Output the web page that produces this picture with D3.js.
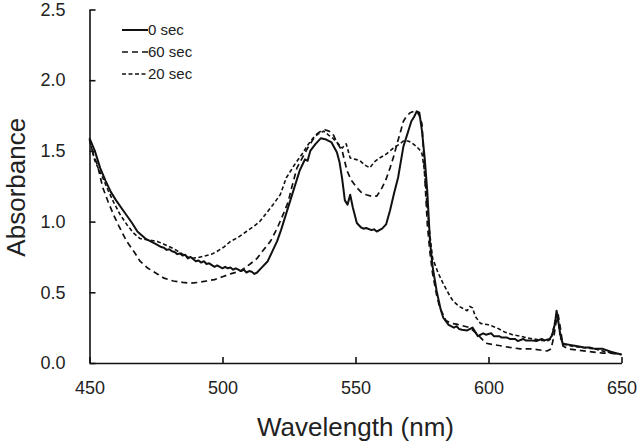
<!DOCTYPE html>
<html><head><meta charset="utf-8">
<script src="https://cdn.jsdelivr.net/npm/d3@7/dist/d3.min.js"></script>
<style>body{margin:0;background:#fff}svg{display:block}text{font-family:"Liberation Sans",Arial,sans-serif;fill:#222}</style>
</head><body><svg id="c" width="638" height="442"></svg>
<script>
const xTicks = [450, 500, 550, 600, 650];
const yTicks = [0.0, 0.5, 1.0, 1.5, 2.0, 2.5];
const seriesNames = ["0 sec", "60 sec", "20 sec"];

const sec0 = [[450,1.59],[452,1.50],[454,1.38],[456,1.29],[458,1.21],[460,1.15],[463,1.07],[466,0.99],[468,0.93],[471,0.88],[473,0.86],[475,0.84],[476,0.83],[477,0.82],[478,0.815],[479,0.80],[480,0.805],[481,0.79],[482,0.785],[483,0.77],[484,0.775],[485,0.76],[486,0.765],[487,0.74],[488,0.75],[490,0.72],[491,0.725],[492,0.71],[493,0.72],[494,0.70],[495,0.705],[497,0.68],[498,0.69],[500,0.67],[501,0.68],[502,0.67],[503,0.675],[504,0.66],[505,0.67],[507,0.65],[508,0.66],[509,0.64],[510,0.65],[511,0.645],[512,0.63],[513,0.64],[514,0.66],[515,0.68],[517,0.72],[519,0.80],[520.5,0.86],[522,0.94],[524,1.06],[526,1.18],[529,1.36],[530,1.40],[531,1.44],[532,1.43],[533,1.50],[535,1.55],[537,1.59],[539,1.58],[541,1.56],[543,1.49],[544,1.42],[545,1.30],[546,1.15],[547,1.12],[548,1.19],[549,1.10],[550.5,0.99],[552,0.96],[553,0.95],[554,0.955],[556,0.94],[557,0.945],[558,0.93],[560,0.95],[561.5,0.98],[563,1.08],[564.5,1.20],[566,1.31],[568,1.53],[570,1.65],[571,1.71],[572,1.74],[573,1.78],[574,1.77],[575,1.64],[576,1.45],[577,1.21],[578,0.86],[579,0.68],[580.5,0.51],[582,0.38],[583,0.32],[585,0.27],[587,0.25],[588,0.26],[589,0.24],[590,0.235],[592,0.23],[594,0.25],[596,0.19],[598,0.21],[599,0.20],[601,0.21],[602,0.19],[604,0.19],[605,0.18],[607,0.18],[608,0.17],[610,0.17],[611,0.155],[613,0.17],[614,0.16],[616,0.16],[618,0.155],[620,0.17],[621,0.16],[623,0.17],[624,0.20],[625,0.28],[625.6,0.37],[626.2,0.30],[627,0.20],[628,0.13],[630,0.13],[633,0.12],[636,0.11],[638,0.11],[640,0.10],[643,0.10],[646,0.08],[648,0.07],[650,0.06]];

const sec60 = [[450,1.58],[451.5,1.47],[453,1.40],[455,1.24],[457,1.14],[459,1.05],[461,0.97],[464,0.86],[467,0.78],[469,0.72],[472,0.67],[475.5,0.63],[478,0.60],[481.5,0.58],[485,0.57],[488,0.565],[491,0.57],[494,0.58],[497,0.59],[500,0.61],[503,0.63],[506.7,0.65],[510.4,0.70],[513,0.74],[515,0.79],[518,0.86],[520.5,0.95],[523,1.06],[524.7,1.14],[526,1.24],[528,1.38],[530,1.45],[532,1.52],[534,1.58],[535.5,1.62],[537,1.64],[538.5,1.65],[540,1.64],[541.5,1.62],[543,1.56],[545,1.50],[546.8,1.36],[548.5,1.29],[550.5,1.24],[552,1.21],[554,1.19],[556,1.18],[558,1.18],[560,1.24],[561.5,1.30],[563,1.38],[564.5,1.47],[565.6,1.55],[567,1.64],[568,1.71],[569,1.74],[570.5,1.77],[572,1.78],[573,1.78],[574,1.75],[575,1.69],[576,1.33],[577,0.98],[578,0.78],[579,0.63],[580.5,0.48],[581.7,0.39],[583,0.34],[584,0.30],[586,0.28],[588,0.275],[591,0.26],[593,0.25],[596,0.20],[599,0.14],[602,0.13],[605,0.12],[608,0.11],[612,0.10],[616.6,0.10],[620,0.09],[622,0.085],[623.5,0.10],[624.5,0.18],[625.5,0.30],[626.2,0.34],[627,0.25],[628,0.12],[630,0.10],[634,0.09],[638,0.08],[643,0.07],[646,0.07],[649,0.06],[650,0.06]];

const sec20 = [[450,1.58],[452,1.43],[455,1.31],[457,1.22],[459,1.14],[461.5,1.05],[464,0.98],[466.5,0.92],[469,0.88],[472,0.87],[475.5,0.86],[478,0.84],[481.5,0.81],[485,0.77],[488,0.74],[490.5,0.745],[493,0.755],[496,0.77],[498,0.79],[500.5,0.82],[503,0.86],[506,0.89],[509,0.93],[512,0.97],[514,1.00],[516.5,1.06],[519,1.12],[521.7,1.19],[524,1.31],[527,1.40],[530,1.48],[532,1.54],[534,1.59],[536,1.62],[538,1.64],[540,1.61],[541.5,1.59],[543,1.56],[545,1.52],[546.5,1.55],[548,1.45],[550,1.44],[551.7,1.43],[553.5,1.40],[555.4,1.38],[557,1.42],[559,1.45],[561,1.47],[563,1.50],[565,1.53],[566.7,1.55],[568,1.57],[569.7,1.57],[571,1.56],[573,1.53],[574,1.51],[575,1.48],[576,1.35],[577,1.09],[578,0.90],[579,0.74],[581,0.64],[583,0.56],[585,0.49],[586.6,0.44],[589,0.40],[592,0.37],[593,0.40],[594,0.39],[595,0.33],[597,0.28],[600,0.27],[603,0.25],[606,0.22],[609,0.20],[612,0.19],[614,0.18],[617,0.17],[620,0.16],[622,0.155],[623.5,0.17],[624.5,0.25],[625.5,0.34],[626.2,0.30],[627,0.18],[628,0.14],[631,0.12],[635,0.11],[640,0.10],[644,0.08],[647,0.07],[650,0.06]];

const svg = d3.select("#c");
const L = 89.5, R = 621.5, T = 9.5, B = 363;
const x = d3.scaleLinear().domain([450, 650]).range([L, R]);
const y = d3.scaleLinear().domain([0, 2.5]).range([B, T]);

const xAxis = svg.append("g").attr("transform", `translate(0,${B})`)
  .call(d3.axisBottom(x).tickValues(xTicks).tickFormat(d3.format("d")).tickSizeInner(-6).tickSizeOuter(0).tickPadding(18));
const yAxis = svg.append("g").attr("transform", `translate(${L},0)`)
  .call(d3.axisLeft(y).tickValues(yTicks).tickFormat(d3.format(".1f")).tickSizeInner(-6).tickSizeOuter(0).tickPadding(24));
[xAxis, yAxis].forEach(g => {
  g.select(".domain").attr("stroke", "#111").attr("stroke-width", 1.6);
  g.selectAll(".tick line").attr("stroke", "#111").attr("stroke-width", 1.6);
  g.selectAll(".tick text").attr("font-size", 18).attr("fill", "#222").attr("font-family", "Liberation Sans, Arial, sans-serif");
});

const line = d3.line().x(d => x(d[0])).y(d => y(d[1]));
const styles = [
  {data: sec0, dash: null, w: 2.0},
  {data: sec60, dash: "6,4", w: 1.7},
  {data: sec20, dash: "4,2.5", w: 1.6}
];
styles.forEach(s => {
  svg.append("path").datum(s.data).attr("d", line).attr("fill", "none")
    .attr("stroke", "#111").attr("stroke-width", s.w).attr("stroke-linejoin", "round")
    .attr("stroke-dasharray", s.dash);
});

const leg = svg.append("g");
const legY = [30, 52, 74];
seriesNames.forEach((n, i) => {
  leg.append("line").attr("x1", 122).attr("x2", 148).attr("y1", legY[i]).attr("y2", legY[i])
    .attr("stroke", "#111").attr("stroke-width", styles[i].w).attr("stroke-dasharray", styles[i].dash);
  leg.append("text").attr("x", 148).attr("y", legY[i]).attr("dy", "0.36em").attr("font-size", 15).text(n);
});

svg.append("text").attr("x", (L + R) / 2).attr("y", 436).attr("text-anchor", "middle").attr("font-size", 26).text("Wavelength (nm)");
svg.append("text").attr("transform", `translate(25,${(T + B) / 2 + 1}) rotate(-90)`).attr("text-anchor", "middle").attr("font-size", 26).text("Absorbance");
</script></body></html>
